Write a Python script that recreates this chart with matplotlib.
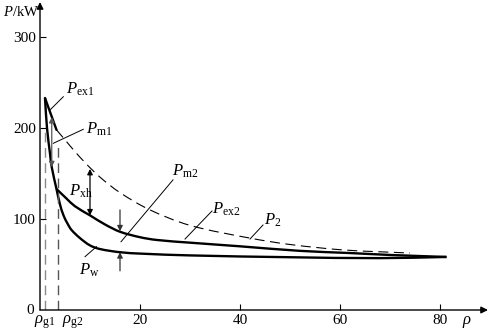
import matplotlib
matplotlib.use("Agg")
import matplotlib.pyplot as plt
import numpy as np
from matplotlib.path import Path
from matplotlib.patches import PathPatch

plt.rcParams['font.family'] = ['Liberation Serif', 'DejaVu Serif']
plt.rcParams['mathtext.fontset'] = 'custom'
plt.rcParams['mathtext.rm'] = 'Liberation Serif'
plt.rcParams['mathtext.it'] = 'Liberation Serif:italic'

# ---- data ----
# Pw: left branch from the peak down through the junction, then the lower curve
pw_x = [1.0, 1.4, 2.0, 2.35, 3.3, 4.0, 4.7, 5.5, 6.3, 8, 10, 12, 16, 20, 30, 50, 68, 81.3]
pw_y = [233, 200, 172, 157, 133, 116, 104, 95, 88, 79, 71, 67, 63.5, 62, 60, 58, 57, 58.3]
# Pex1: short thick segment from the peak
pex1_x = [1.0, 3.3]
pex1_y = [233, 198]
# Pex2: upper solid curve from the junction
pex2_x = [3.3, 5.3, 7, 10, 13, 16, 20, 23.3, 30, 40, 52, 62, 70, 81.3]
pex2_y = [133, 122.5, 114, 104, 94, 86, 80, 77, 74, 70, 65, 62.6, 60.5, 58.3]
# P2: dashed curve
p2_x = [3.3, 5, 6.7, 9, 12, 16, 22, 30, 42, 50, 60.7, 74]
p2_y = [198, 187, 176, 162, 146, 129, 110, 93, 79, 72, 66, 62.6]
# guide lines rho_g1, rho_g2 (x, top)
rho_g = [1.0, 3.5]
rho_g_top = [200, 185]

x_ticks = [20, 40, 60, 80]
y_ticks = [100, 200, 300]

fig = plt.figure(figsize=(4.91, 3.32), dpi=100)
ax = fig.add_axes([40/491, 22/332, 448/491, 308/332])
ax.set_xlim(0, 89.6)
ax.set_ylim(0, 338.5)
for s in ax.spines.values():
    s.set_visible(False)

SX, SY = 5.0, 0.91  # approx pixels per data unit, for smooth drawing


def smooth_path(xs, ys):
    """Cubic Bezier path through the given points (shape-preserving tangents)."""
    P = np.column_stack([np.asarray(xs, float) * SX, np.asarray(ys, float) * SY])
    n = len(P)
    T = np.zeros_like(P)
    for i in range(n):
        if i == 0:
            d = P[1] - P[0]
        elif i == n - 1:
            d = P[-1] - P[-2]
        else:
            d = P[i + 1] - P[i - 1]
        T[i] = d / np.hypot(*d)
    verts = [P[0]]
    codes = [Path.MOVETO]
    for i in range(n - 1):
        L = np.hypot(*(P[i + 1] - P[i])) / 3.0
        verts += [P[i] + T[i] * L, P[i + 1] - T[i + 1] * L, P[i + 1]]
        codes += [Path.CURVE4] * 3
    V = np.array(verts)
    V[:, 0] /= SX
    V[:, 1] /= SY
    return Path(V, codes)


def draw_curve(xs, ys, **kw):
    ax.add_patch(PathPatch(smooth_path(xs, ys), fill=False, **kw))


# axes with arrows
ax.annotate('', xy=(1, 0), xytext=(0, 0), xycoords='axes fraction',
            arrowprops=dict(arrowstyle='-|>', lw=1.0, color='black',
                            mutation_scale=10, shrinkA=0, shrinkB=0))
ax.annotate('', xy=(0, 1), xytext=(0, 0), xycoords='axes fraction',
            arrowprops=dict(arrowstyle='-|>', lw=1.0, color='black',
                            mutation_scale=10, shrinkA=0, shrinkB=0))

ax.set_xticks(x_ticks)
ax.set_yticks(y_ticks)
ax.set_xticklabels([str(v) for v in x_ticks])
ax.set_yticklabels([str(v) for v in y_ticks])
ax.tick_params(direction='in', length=4, width=0.8, labelsize=11, pad=3)
ax.tick_params(axis='x', pad=3)
ax.text(-1.2, 0, '0', ha='right', va='center', fontsize=11)

# guide lines
gcols = ['#8a8a8a', '#555555']
for xg, top, c in zip(rho_g, rho_g_top, gcols):
    ax.plot([xg, xg], [0, top], color=c, lw=1.0, dashes=(7, 4))
ax.text(rho_g[0], -4, r'$\rho_{\rm g1}$', ha='center', va='top', fontsize=12)
ax.text(rho_g[1] + 3.0, -4, r'$\rho_{\rm g2}$', ha='center', va='top', fontsize=12)

# curves
draw_curve(pw_x, pw_y, edgecolor='black', lw=1.7, joinstyle='round')
ax.plot(pex1_x, pex1_y, color='black', lw=1.7, solid_capstyle='round')
draw_curve(pex2_x, pex2_y, edgecolor='black', lw=1.7, joinstyle='round')
draw_curve(p2_x, p2_y, edgecolor='black', lw=0.8, linestyle=(0, (9, 5)))

# double arrows
def darrow(x, y0, y1, color='black'):
    ax.annotate('', xy=(x, y1), xytext=(x, y0),
                arrowprops=dict(arrowstyle='<|-|>', lw=0.9, color=color,
                                mutation_scale=8, shrinkA=0, shrinkB=0))

darrow(2.35, 157, 212, color='#555555')
darrow(10, 104, 155)
# Pm2 inward arrows
ax.annotate('', xy=(16, 86.5), xytext=(16, 110),
            arrowprops=dict(arrowstyle='-|>', lw=0.9, color='#333333',
                            mutation_scale=8, shrinkA=0, shrinkB=0))
ax.annotate('', xy=(16, 63.5), xytext=(16, 43),
            arrowprops=dict(arrowstyle='-|>', lw=0.9, color='#333333',
                            mutation_scale=8, shrinkA=0, shrinkB=0))

# leader lines
leaders = [((4.66, 234.4), (2.0, 219.8)),
           ((8.66, 198.6), (2.66, 183.2)),
           ((11.3, 69.6), (9.0, 58.6)),
           ((26.6, 143.0), (16.2, 75.0)),
           ((34.4, 108.8), (29.0, 78.0)),
           ((44.6, 93.4), (42.0, 78.0))]
for (x0, y0), (x1, y1) in leaders:
    ax.plot([x0, x1], [y0, y1], color='black', lw=0.7)

lab = dict(fontsize=12, ha='left', va='center')
ax.text(5.2, 243, r'$P_{\rm ex1}$', **lab)
ax.text(9.3, 199, r'$P_{\rm m1}$', **lab)
ax.text(5.8, 130, r'$P_{\rm xh}$', **lab)
ax.text(7.8, 44, r'$P_{\rm w}$', **lab)
ax.text(26.5, 152, r'$P_{\rm m2}$', **lab)
ax.text(34.5, 111, r'$P_{\rm ex2}$', **lab)
ax.text(44.9, 99, r'$P_{2}$', **lab)

ax.text(85.3, -4, r'$\rho$', ha='center', va='top', fontsize=12)
fig.text(3/491, 1 - 12/332, r'$P$/kW', ha='left', va='center', fontsize=10.5)

fig.savefig('out.png', dpi=100)
